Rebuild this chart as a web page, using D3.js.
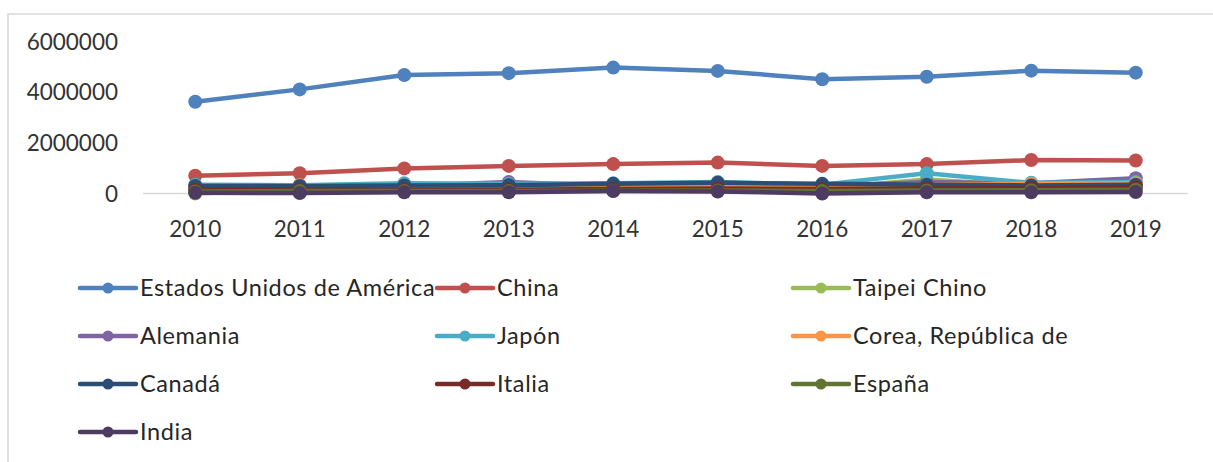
<!DOCTYPE html>
<html>
<head>
<meta charset="utf-8">
<script src="https://d3js.org/d3.v7.min.js"></script>
<style>
  body { margin: 0; background: #fff; }
  svg { display: block; }
</style>
</head>
<body>
<svg width="1213" height="462"></svg>
<script>

var years = [2010, 2011, 2012, 2013, 2014, 2015, 2016, 2017, 2018, 2019];
var yTicks = [0, 2000000, 4000000, 6000000];

var countries = ["Estados Unidos de América", "China", "Taipei Chino", "Alemania", "Japón",
                 "Corea, República de", "Canadá", "Italia", "España", "India"];
var colors = ["#4F81BD", "#C0504D", "#9BBB59", "#8064A2", "#4BACC6",
              "#F79646", "#2C4D75", "#772C2A", "#5F7530", "#4D3B62"];

var usa     = [3620000, 4110000, 4680000, 4750000, 4970000, 4840000, 4510000, 4610000, 4850000, 4770000];
var china   = [700000, 800000, 990000, 1090000, 1160000, 1220000, 1090000, 1160000, 1320000, 1300000];
var taipei  = [0, 150000, 200000, 200000, 200000, 250000, 200000, 550000, 300000, 350000];
var alemania= [250000, 250000, 300000, 450000, 300000, 350000, 300000, 450000, 400000, 600000];
var japon   = [350000, 330000, 400000, 380000, 400000, 450000, 350000, 800000, 420000, 450000];
var corea   = [200000, 330000, 250000, 250000, 250000, 300000, 280000, 350000, 380000, 400000];
var canada  = [300000, 300000, 320000, 330000, 380000, 420000, 380000, 350000, 320000, 350000];
var italia  = [150000, 150000, 150000, 150000, 180000, 200000, 180000, 200000, 220000, 250000];
var espana  = [80000, 100000, 100000, 100000, 110000, 120000, 100000, 120000, 130000, 150000];
var india   = [30000, 20000, 50000, 50000, 100000, 80000, 0, 50000, 50000, 60000];

var series = [usa, china, taipei, alemania, japon, corea, canada, italia, espana, india];

var svg = d3.select("svg");

// frame (only top and left edges are visible)
svg.append("rect")
    .attr("x", 8).attr("y", 14)
    .attr("width", 1260).attr("height", 500)
    .attr("fill", "none")
    .attr("stroke", "#d9d9d9")
    .attr("stroke-width", 1.5);

var x = d3.scaleBand().domain(years).range([143, 1188]);
var y = d3.scaleLinear().domain([0, 6000000]).range([193.5, 41.5]);
function cx(d) { return x(d) + x.bandwidth() / 2; }

// y labels
svg.append("g").selectAll("text")
    .data(yTicks)
    .enter().append("text")
    .attr("x", 118)
    .attr("y", function (d) { return y(d) + 8; })
    .attr("text-anchor", "end")
    .style("font-family", "Lato")
    .style("font-size", "22.5px")
    .style("fill", "#333")
    .text(function (d) { return d; });

// baseline
svg.append("line")
    .attr("x1", 143).attr("x2", 1188)
    .attr("y1", y(0)).attr("y2", y(0))
    .attr("stroke", "#d9d9d9")
    .attr("stroke-width", 1.5);

// x labels
svg.append("g").selectAll("text")
    .data(years)
    .enter().append("text")
    .attr("x", function (d) { return cx(d); })
    .attr("y", 237)
    .attr("text-anchor", "middle")
    .style("font-family", "Lato")
    .style("font-size", "22.5px")
    .style("fill", "#333")
    .text(function (d) { return d; });

// lines and markers
var line = d3.line()
    .x(function (d, i) { return cx(years[i]); })
    .y(function (d) { return y(d); });

series.forEach(function (s, k) {
    var g = svg.append("g");
    g.append("path")
        .datum(s)
        .attr("d", line)
        .attr("fill", "none")
        .attr("stroke", colors[k])
        .attr("stroke-width", 4.5)
        .attr("stroke-linejoin", "round");
    g.selectAll("circle")
        .data(s)
        .enter().append("circle")
        .attr("cx", function (d, i) { return cx(years[i]); })
        .attr("cy", function (d) { return y(d); })
        .attr("r", 7)
        .attr("fill", colors[k]);
});

// legend
var colX = [80, 437, 793];
var rowY = [288, 336, 384, 432];

var legend = svg.selectAll(".legend").data(countries)
    .enter().append("g")
    .attr("class", "legend")
    .attr("transform", function (d, i) {
        return "translate(" + colX[i % 3] + "," + rowY[Math.floor(i / 3)] + ")";
    });

legend.append("line")
    .attr("x1", 0).attr("x2", 56)
    .attr("stroke", function (d, i) { return colors[i]; })
    .attr("stroke-width", 4.5)
    .attr("stroke-linecap", "round");

legend.append("circle")
    .attr("cx", 28).attr("r", 5.5)
    .attr("fill", function (d, i) { return colors[i]; });

legend.append("text")
    .attr("x", 60)
    .attr("y", 8)
    .style("font-family", "Lato")
    .style("font-size", "23.5px")
    .style("letter-spacing", "0.6px")
    .style("fill", "#262626")
    .text(function (d) { return d; });

</script>
</body>
</html>
